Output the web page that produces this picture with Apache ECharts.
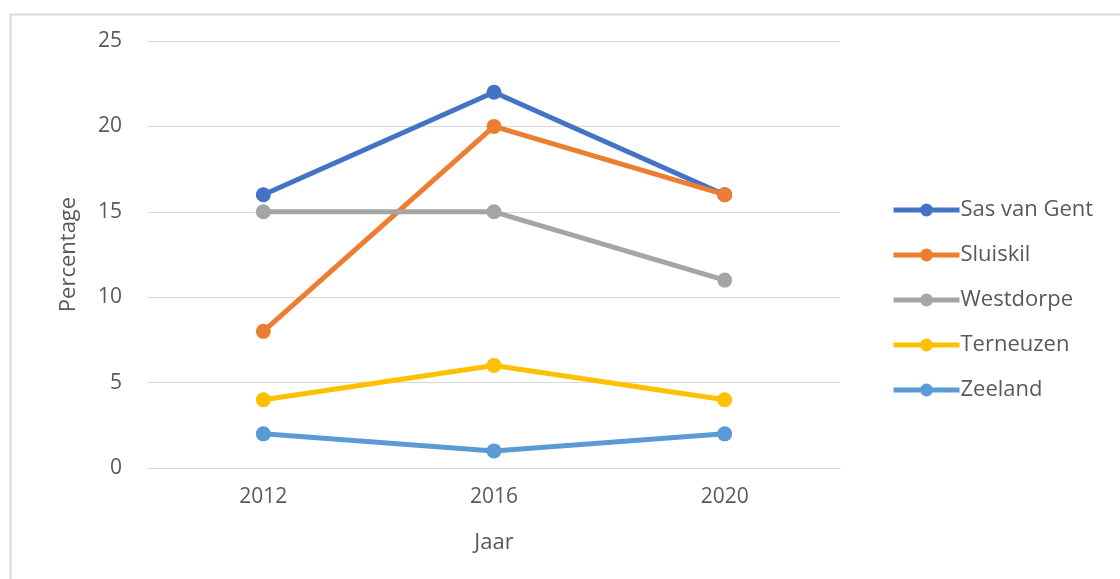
<!DOCTYPE html>
<html>
<head>
<meta charset="utf-8">
<script src="https://cdn.jsdelivr.net/npm/echarts@6/dist/echarts.min.js"></script>
<style>
  html, body { margin: 0; padding: 0; background: #fff; }
  #chart { width: 1120px; height: 579px; }
</style>
</head>
<body>
<div id="chart"></div>
<script>
var years = ['2012', '2016', '2020'];
var seriesNames = ['Sas van Gent', 'Sluiskil', 'Westdorpe', 'Terneuzen', 'Zeeland'];
var sasVanGent = [16, 22, 16];
var sluiskil = [8, 20, 16];
var westdorpe = [15, 15, 11];
var terneuzen = [4, 6, 4];
var zeeland = [2, 1, 2];
var colors = ['#4472C4', '#ED7D31', '#A5A5A5', '#FFC000', '#5B9BD5'];

var font = '"Open Sans", "Noto Sans", sans-serif';
var values = [sasVanGent, sluiskil, westdorpe, terneuzen, zeeland];

var chart = echarts.init(document.getElementById('chart'));

var option = {
    backgroundColor: '#fff',
    color: colors,
    animation: false,
    textStyle: { fontFamily: font },
    graphic: [{
        type: 'rect',
        left: 8, top: 12,
        shape: { width: 1130, height: 590 },
        style: { fill: 'none', stroke: '#d9d9d9', lineWidth: 2 },
        silent: true
    }],
    grid: {
        left: 148,
        right: 280,
        top: 41,
        bottom: 111
    },
    legend: {
        orient: 'vertical',
        left: 886,
        top: 194,
        itemWidth: 66,
        itemHeight: 16,
        itemGap: 23,
        data: seriesNames,
        lineStyle: { width: 5 },
        textStyle: { color: '#595959', fontSize: 22, fontFamily: font, padding: [0, 0, 0, -4] }
    },
    xAxis: {
        type: 'category',
        data: years,
        boundaryGap: true,
        name: 'Jaar',
        nameLocation: 'middle',
        nameGap: 64,
        nameTextStyle: { color: '#595959', fontSize: 22, fontFamily: font },
        axisLine: { show: true, lineStyle: { color: '#d9d9d9', width: 1 } },
        axisTick: { show: false },
        axisLabel: { color: '#595959', fontSize: 21, margin: 19, fontFamily: font }
    },
    yAxis: {
        type: 'value',
        min: 0,
        max: 25,
        interval: 5,
        name: 'Percentage',
        nameLocation: 'middle',
        nameGap: 68,
        nameTextStyle: { color: '#595959', fontSize: 22, fontFamily: font },
        axisLine: { show: false },
        axisTick: { show: false },
        splitLine: { lineStyle: { color: '#d9d9d9', width: 1 } },
        axisLabel: { color: '#595959', fontSize: 21, margin: 26, fontFamily: font }
    },
    series: seriesNames.map(function (name, i) {
        return {
            name: name,
            type: 'line',
            data: values[i],
            symbol: 'circle',
            symbolSize: 15,
            lineStyle: { width: 5, color: colors[i] },
            itemStyle: { color: colors[i] }
        };
    })
};

chart.setOption(option);
</script>
</body>
</html>
